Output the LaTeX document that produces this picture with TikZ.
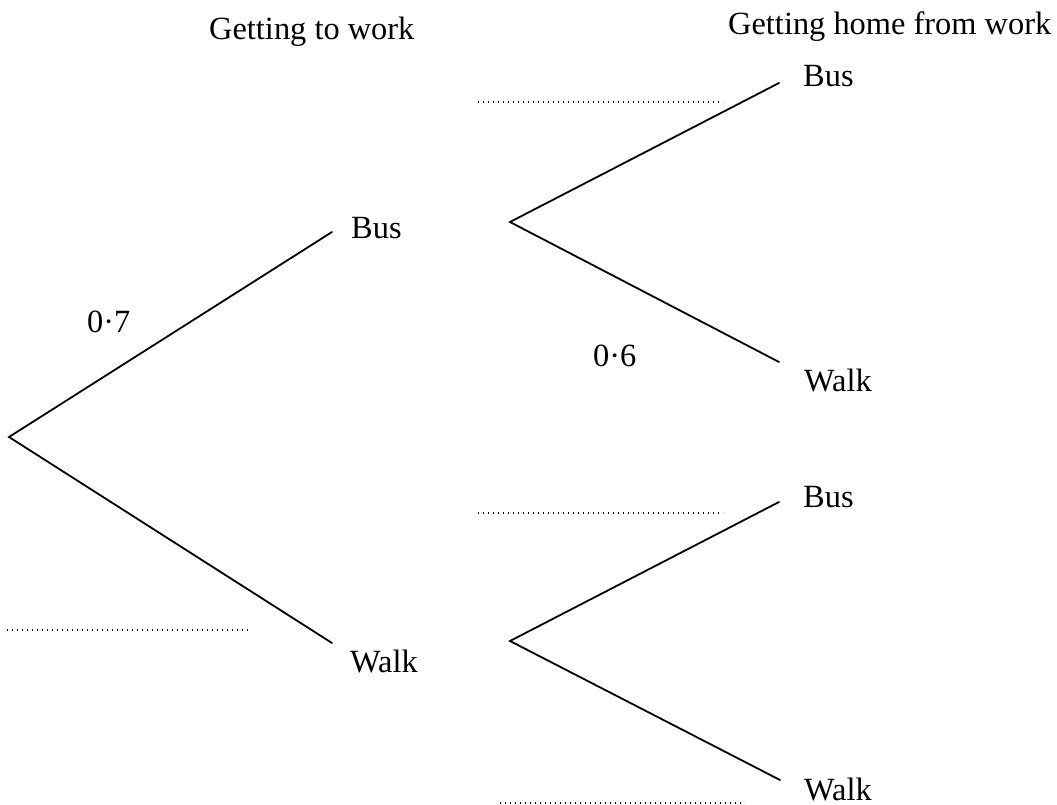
\documentclass[tikz,border=0pt]{standalone}
\usepackage{fontspec}
\setmainfont{Liberation Serif}
\usepackage{tikz}
\usetikzlibrary{positioning}

\begin{document}
\begin{tikzpicture}[x=1pt,y=-1pt]
    \tikzstyle{lbl}=[anchor=base west,inner sep=0pt,font=\fontsize{32.4}{36}\selectfont]
    \tikzstyle{branch}=[line width=1.8pt,line cap=round,line join=miter]
    \tikzstyle{blank}=[line width=1.4pt,dash pattern=on 1.4pt off 3.6pt]
    \useasboundingbox (0,0) rectangle (1057,805);

    \node[lbl] (title1) at (209,40) {Getting to work};
    \node[lbl] (title2) at (728,35) {Getting home from work};

    % first stage
    \coordinate (root) at (9,437);
    \coordinate (b1) at (332,232);
    \coordinate (w1) at (332,643);
    \node[lbl] (bus1) at (351,238) {Bus};
    \node[lbl] (walk1) at (350,672) {Walk};
    \draw[branch] (b1) -- (root) -- (w1);
    \node[lbl] (p1) at (87,332) {0·7};

    % second stage, after bus
    \coordinate (bb) at (510,222);
    \coordinate (bbb) at (779,83);
    \coordinate (bbw) at (779,362);
    \node[lbl] (bus2) at (803,87) {Bus};
    \node[lbl] (walk2) at (804,391) {Walk};
    \draw[branch] (bbb) -- (bb) -- (bbw);
    \node[lbl] (p2) at (593,366) {0·6};

    % second stage, after walk
    \coordinate (bw) at (510,641);
    \coordinate (bwb) at (779,502);
    \coordinate (bww) at (780,780);
    \node[lbl] (bus3) at (803,507) {Bus};
    \node[lbl] (walk3) at (804,800) {Walk};
    \draw[branch] (bwb) -- (bw) -- (bww);

    % answer spaces
    \draw[blank] (478,102) -- (723,102);
    \draw[blank] (478,513) -- (723,513);
    \draw[blank] (7,630) -- (250,630);
    \draw[blank] (500,803) -- (745,803);
\end{tikzpicture}
\end{document}
